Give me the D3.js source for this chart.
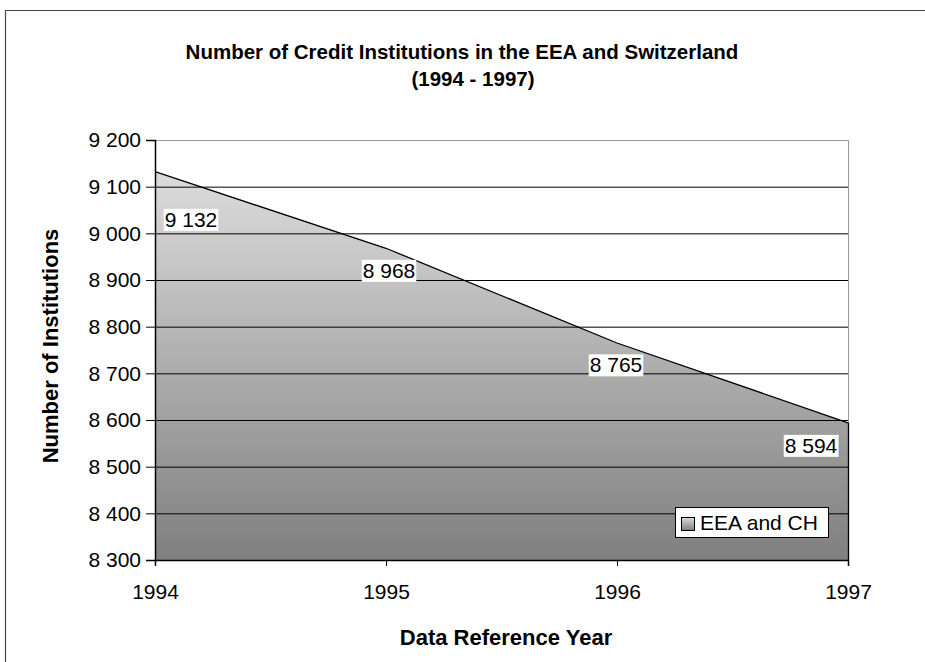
<!DOCTYPE html>
<html><head><meta charset="utf-8">
<script src="https://cdn.jsdelivr.net/npm/d3@7"></script>
<style>body{margin:0;background:#fff}svg{display:block}text{font-family:Arial,"Liberation Sans",sans-serif}</style>
</head><body>
<svg id="c" width="925" height="662"></svg>
<script>
const years = [1994, 1995, 1996, 1997];
const values = [9132, 8968, 8765, 8594];
const yTicks = [8300, 8400, 8500, 8600, 8700, 8800, 8900, 9000, 9100, 9200];
const seriesName = "EEA and CH";
const titleLines = ["Number of Credit Institutions in the EEA and Switzerland", "(1994 - 1997)"];

const svg = d3.select("#c");
const L = 155, R = 848, T = 140, B = 560;
const x = d3.scaleLinear().domain([1994, 1997]).range([L, R]);
const y = d3.scaleLinear().domain([8300, 9200]).range([B, T]);
const fmt = v => d3.format(",")(v).replace(/,/g, " ");
const FONT = "Arial, 'Liberation Sans', sans-serif";

// outer frame
svg.append("path").attr("d", "M5.5,662 V10.5 H925").attr("fill", "none").attr("stroke", "#444").attr("stroke-width", 1.2);

const defs = svg.append("defs");
const g1 = defs.append("linearGradient").attr("id", "gr").attr("x1", 0).attr("y1", 0).attr("x2", 0).attr("y2", 1);
g1.append("stop").attr("offset", 0).attr("stop-color", "#dcdcdc");
g1.append("stop").attr("offset", 1).attr("stop-color", "#7f7f7f");

// plot border (top/right grey)
svg.append("path").attr("d", `M${L},${T+0.5} H${R+0.5} V${B}`).attr("fill", "none").attr("stroke", "#999").attr("stroke-width", 1);

const data = years.map((yr, i) => ({yr, v: values[i]}));
const area = d3.area().x(d => x(d.yr)).y0(B).y1(d => y(d.v));
svg.append("path").datum(data).attr("d", area).attr("fill", "url(#gr)");

// gridlines
svg.append("g").selectAll("line").data(yTicks.filter(t => t > 8300 && t < 9200)).join("line")
  .attr("x1", L).attr("x2", R).attr("y1", d => y(d) + 0.5).attr("y2", d => y(d) + 0.5)
  .attr("stroke", "#000").attr("stroke-width", 1);

svg.append("path").datum(data).attr("d", d3.line().x(d => x(d.yr)).y(d => y(d.v)))
  .attr("fill", "none").attr("stroke", "#000").attr("stroke-width", 1.3);
svg.append("line").attr("x1", R + 0.5).attr("x2", R + 0.5).attr("y1", y(values[3])).attr("y2", B).attr("stroke", "#000").attr("stroke-width", 1.3);

// axes
const ya = svg.append("g").attr("transform", `translate(${L},0)`)
  .call(d3.axisLeft(y).tickValues(yTicks).tickFormat(fmt).tickSize(9).tickPadding(5));
const xa = svg.append("g").attr("transform", `translate(0,${B})`)
  .call(d3.axisBottom(x).tickValues(years).tickFormat(d3.format("d")).tickSize(6).tickPadding(18));
[ya, xa].forEach(a => {
  a.select(".domain").attr("stroke", "#000").attr("stroke-width", 1.5);
  a.selectAll(".tick line").attr("stroke", "#000");
  a.selectAll("text").attr("font-size", 21).attr("fill", "#000").attr("font-family", FONT);
});

// data labels
const labelPos = [[191, 219.5], [389, 270.5], [616, 365], [811, 445.5]];
const lg = svg.append("g");
data.forEach((d, i) => {
  const t = lg.append("text").attr("x", labelPos[i][0]).attr("y", labelPos[i][1]).attr("dy", "0.35em")
    .attr("text-anchor", "middle").attr("font-size", 21).attr("fill", "#000").text(fmt(d.v));
  const bb = t.node().getBBox();
  lg.insert("rect", "text").attr("x", bb.x - 1).attr("y", bb.y + 1).attr("width", bb.width + 2).attr("height", bb.height - 1).attr("fill", "#fff");
});

// title
svg.append("text").attr("x", 462).attr("y", 59).attr("text-anchor", "middle").attr("font-size", 20.5).attr("font-weight", "bold").text(titleLines[0]);
svg.append("text").attr("x", 473).attr("y", 86).attr("text-anchor", "middle").attr("font-size", 20.5).attr("font-weight", "bold").text(titleLines[1]);

// axis titles
svg.append("text").attr("transform", "translate(58,346) rotate(-90)").attr("text-anchor", "middle").attr("font-size", 22).attr("font-weight", "bold").text("Number of Institutions");
svg.append("text").attr("x", 506).attr("y", 645).attr("text-anchor", "middle").attr("font-size", 22).attr("font-weight", "bold").text("Data Reference Year");

// legend
const leg = svg.append("g");
leg.append("rect").attr("x", 675.5).attr("y", 507.5).attr("width", 153).attr("height", 30).attr("fill", "#fff").attr("stroke", "#000");
leg.append("rect").attr("x", 681.5).attr("y", 517.5).attr("width", 13).attr("height", 13).attr("fill", "url(#gr)").attr("stroke", "#000");
leg.append("text").attr("x", 700).attr("y", 523).attr("dy", "0.35em").attr("font-size", 21).text(seriesName);
</script>
</body></html>
